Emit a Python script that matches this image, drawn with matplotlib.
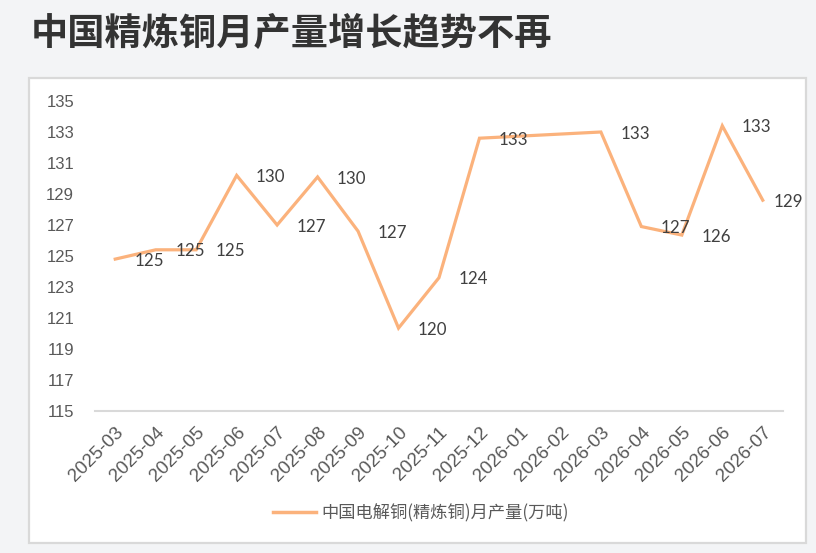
import numpy as np
import matplotlib
matplotlib.use("Agg")
import matplotlib.pyplot as plt
from matplotlib.patches import Rectangle
from matplotlib.lines import Line2D

plt.rcParams['font.family'] = ['Noto Sans CJK SC', 'DejaVu Sans']

title = "中国精炼铜月产量增长趋势不再"
series_name = "中国电解铜(精炼铜)月产量(万吨)"
months = ["2025-03", "2025-04", "2025-05", "2025-06", "2025-07", "2025-08",
          "2025-09", "2025-10", "2025-11", "2025-12", "2026-01", "2026-02",
          "2026-03", "2026-04", "2026-05", "2026-06", "2026-07"]
values = [124.8, 125.4, 125.4, 130.2, 127.0, 130.1, 126.6, 120.35, 123.6,
          132.6, np.nan, np.nan, 133.0, 126.9, 126.35, 133.4, 128.6]
y_ticks = list(range(115, 136, 2))

W, H = 816, 553
fig = plt.figure(figsize=(W / 100, H / 100), dpi=100)
fig.patch.set_facecolor("#f3f4f6")

# white chart box
fig.patches.append(Rectangle((29 / W, 1 - 543 / H), (806 - 29) / W, (543 - 78) / H,
                             transform=fig.transFigure, facecolor="white",
                             edgecolor="#d9d9d9", linewidth=1.6, zorder=-10))

fig.text(31 / W, 1 - 34 / H, title, fontsize=26.8, fontweight="bold",
         color="#333333", va="center", ha="left")

ax = fig.add_axes([95 / W, 1 - 411 / H, (783 - 95) / W, (411 - 101) / H])
ax.set_zorder(1)
ax.set_facecolor("none")

x = np.arange(len(months))
v = np.array(values, dtype=float)
mask = ~np.isnan(v)
color = "#fbb27c"
ax.plot(x[mask], v[mask], color=color, linewidth=2.3, solid_joinstyle="miter", zorder=3)

for i in x[mask]:
    dx = 7.5 if i == len(months) - 1 else 14
    ax.annotate(f"{v[i]:.0f}", (i, v[i]), xytext=(dx, -1.2), textcoords="offset points",
                ha="left", va="center", fontsize=12.2, color="#404040",
                family=["Lato", "DejaVu Sans"], zorder=4)

ax.set_xlim(-0.5, len(months) - 0.5)
ax.set_ylim(115, 135)
ax.set_yticks(y_ticks)
ax.set_yticklabels([str(t) for t in y_ticks], family=["Liberation Sans", "DejaVu Sans"],
                   fontsize=12, color="#595959")
ax.set_xticks(x)
ax.set_xticklabels(months, rotation=45, ha="right", va="top", rotation_mode="anchor",
                   family=["Liberation Sans", "DejaVu Sans"], fontsize=13.5, color="#595959")
ax.tick_params(axis="y", length=0, pad=15)
ax.tick_params(axis="x", length=0, pad=9)
for s in ["top", "right", "left"]:
    ax.spines[s].set_visible(False)
ax.spines["bottom"].set_color("#d9d9d9")
ax.spines["bottom"].set_linewidth(1.5)

handle = Line2D([], [], color=color, linewidth=2.5)
fig.legend([handle], [series_name], loc="center", bbox_to_anchor=(421 / W, 1 - 513 / H),
           frameon=False, fontsize=12.4, labelcolor="#595959", handlelength=2.5,
           handletextpad=0.35)

fig.savefig("out.png", dpi=100, facecolor=fig.get_facecolor())
